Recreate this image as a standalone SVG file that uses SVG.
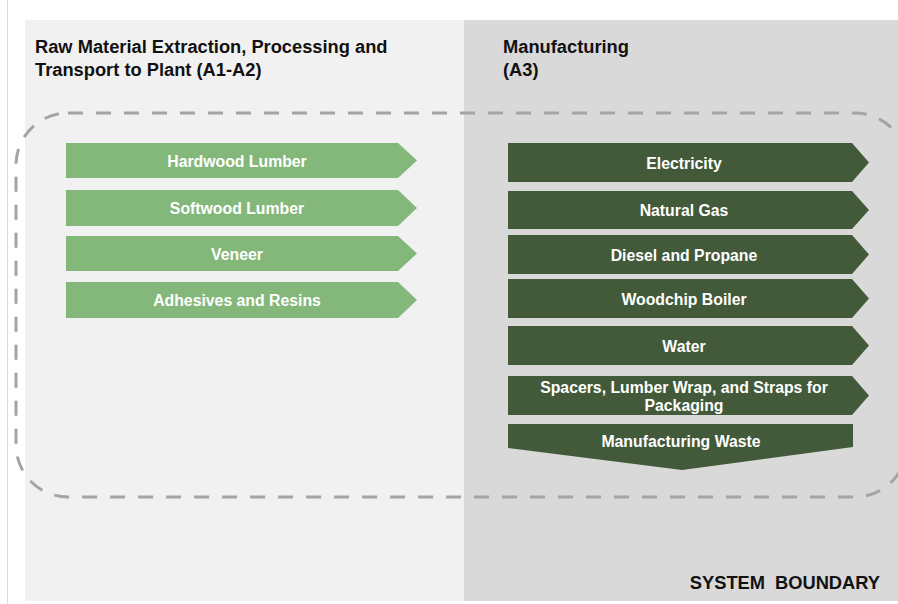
<svg xmlns="http://www.w3.org/2000/svg" width="898" height="604" viewBox="0 0 898 604">
  <style>
    .head { font-family: "Liberation Sans", Arial, Helvetica, sans-serif; font-weight: bold; font-size: 18.3px; fill: #111111; }
    .lbl { font-family: "Liberation Sans", Arial, Helvetica, sans-serif; font-weight: bold; font-size: 15.8px; fill: #ffffff; text-anchor: middle; }
    .light { fill: #84b87a; }
    .dark { fill: #425a3a; }
    .boundary { fill: none; stroke: #a4a4a4; stroke-width: 3; stroke-dasharray: 15 13; }
  </style>
  <rect x="0" y="0" width="898" height="604" fill="#ffffff"/>
  <line x1="7.5" y1="0" x2="7.5" y2="604" stroke="#dcdcdc" stroke-width="1"/>
  <g id="panel-a1a2">
    <rect x="25" y="20" width="439" height="581" fill="#f1f1f1"/>
    <text class="head" x="35" y="53">Raw Material Extraction, Processing and</text>
    <text class="head" x="35" y="76">Transport to Plant (A1-A2)</text>
  </g>
  <g id="panel-a3">
    <rect x="464" y="20" width="434" height="581" fill="#d9d9d9"/>
    <text class="head" x="503" y="53">Manufacturing</text>
    <text class="head" x="503" y="76">(A3)</text>
  </g>
  <g id="system-boundary">
    <rect class="boundary" x="16" y="113" width="891" height="384" rx="52" ry="52"/>
    <text class="head" x="880" y="589" text-anchor="end" word-spacing="5">SYSTEM BOUNDARY</text>
  </g>
  <g id="hardwood-lumber">
    <polygon class="light" points="66,143 398,143 417,160.5 398,178 66,178"/>
    <text class="lbl" x="237" y="166.5">Hardwood Lumber</text>
  </g>
  <g id="softwood-lumber">
    <polygon class="light" points="66,190 398,190 417,208 398,226 66,226"/>
    <text class="lbl" x="237" y="214">Softwood Lumber</text>
  </g>
  <g id="veneer">
    <polygon class="light" points="66,236 398,236 417,253.5 398,271 66,271"/>
    <text class="lbl" x="237" y="259.5">Veneer</text>
  </g>
  <g id="adhesives-resins">
    <polygon class="light" points="66,282 398,282 417,300 398,318 66,318"/>
    <text class="lbl" x="237" y="306">Adhesives and Resins</text>
  </g>
  <g id="electricity">
    <polygon class="dark" points="508,143 852,143 869,162.5 852,182 508,182"/>
    <text class="lbl" x="684" y="168.5">Electricity</text>
  </g>
  <g id="natural-gas">
    <polygon class="dark" points="508,191 852,191 869,210 852,229 508,229"/>
    <text class="lbl" x="684" y="216">Natural Gas</text>
  </g>
  <g id="diesel-propane">
    <polygon class="dark" points="508,235 852,235 869,254.5 852,274 508,274"/>
    <text class="lbl" x="684" y="260.5">Diesel and Propane</text>
  </g>
  <g id="woodchip-boiler">
    <polygon class="dark" points="508,279 852,279 869,298.5 852,318 508,318"/>
    <text class="lbl" x="684" y="304.5">Woodchip Boiler</text>
  </g>
  <g id="water">
    <polygon class="dark" points="508,326 852,326 869,345.5 852,365 508,365"/>
    <text class="lbl" x="684" y="351.5">Water</text>
  </g>
  <g id="packaging">
    <polygon class="dark" points="508,376 852,376 869,395.5 852,415 508,415"/>
    <text class="lbl" x="684" y="392.5">Spacers, Lumber Wrap, and Straps for</text>
    <text class="lbl" x="684" y="410.5">Packaging</text>
  </g>
  <g id="manufacturing-waste">
    <polygon class="dark" points="508,424 853,424 853,447 682,470 508,448"/>
    <text class="lbl" x="681" y="447">Manufacturing Waste</text>
  </g>
</svg>
